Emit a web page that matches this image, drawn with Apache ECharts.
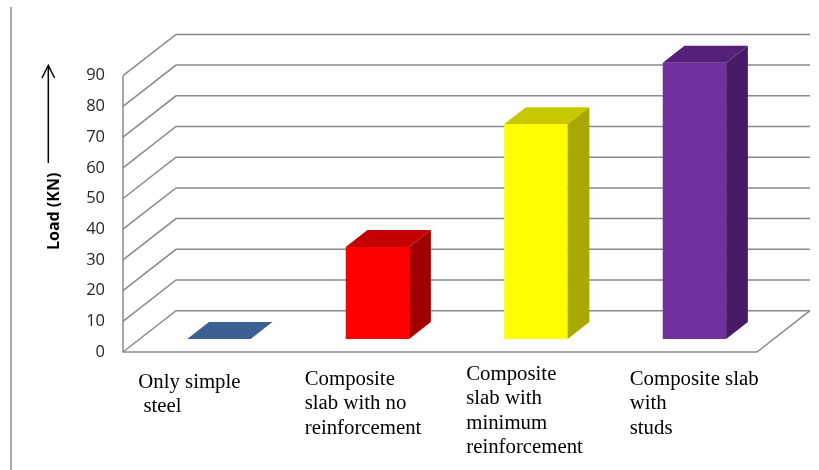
<!DOCTYPE html>
<html>
<head>
<meta charset="utf-8">
<script src="https://cdn.jsdelivr.net/npm/echarts@6/dist/echarts.min.js"></script>
<style>
  html, body { margin: 0; padding: 0; background: #ffffff; }
  #chart { width: 819px; height: 470px; }
</style>
</head>
<body>
<div id="chart"></div>
<script>
// Slab types on the category axis
const categories = [
  'Only simple\n steel',
  'Composite\nslab with no\nreinforcement',
  'Composite\nslab with\nminimum\nreinforcement',
  'Composite slab\nwith\nstuds'
];
// Failure load of each slab, kN
const loadValues = [0, 30, 70, 90];
// Value-axis ticks (also used for the wall grid lines)
const loadTicks = [0, 10, 20, 30, 40, 50, 60, 70, 80, 90];

// Face colours of each 3D column
const frontColors = ['#4f81bd', '#ff0000', '#ffff00', '#7030a0'];
const topColors   = ['#3c6091', '#c40000', '#c8c800', '#55207a'];
const sideColors  = ['#2f4d74', '#a00000', '#a8a800', '#481b66'];

// Oblique projection of the depth direction (pixels for full depth)
const DEPTH_X = 53;
const DEPTH_Y = -41.3;
// Column sits between these fractions of the floor depth
const BAR_FRONT = 0.315;
const BAR_DEPTH = 0.41;
const BAR_WIDTH_RATIO = 0.4;
const GRID_COLOR = '#8a8a8a';

// Per-label placement relative to the category centre on the floor line
const labelOffsets = [[-64, 18], [-56, 15], [-53, 10], [-48, 15]];

const chart = echarts.init(document.getElementById('chart'), null, { renderer: 'canvas' });

function renderWall(params, api) {
  const cs = params.coordSys;
  const v = api.value(1);
  const y = api.coord([0, v])[1];
  const x0 = cs.x;
  const x1 = cs.x + cs.width;
  const lineStyle = { stroke: GRID_COLOR, lineWidth: 1.5, fill: null };
  const children = [{
    type: 'polyline',
    shape: { points: [[x0, y], [x0 + DEPTH_X, y + DEPTH_Y], [x1 + DEPTH_X, y + DEPTH_Y]] },
    style: lineStyle
  }];
  if (v === 0) {
    const yTop = api.coord([0, loadTicks[loadTicks.length - 1]])[1];
    children.push({
      type: 'polyline',
      shape: { points: [[x0, yTop], [x0, y], [x1, y], [x1 + DEPTH_X, y + DEPTH_Y]] },
      style: lineStyle
    });
  }
  return { type: 'group', children: children };
}

function renderBar(params, api) {
  const i = api.value(0);
  const v = api.value(1);
  const band = api.size([1, 0])[0];
  const bw = band * BAR_WIDTH_RATIO;
  const top = api.coord([i, v]);
  const base = api.coord([i, 0]);
  const fx = top[0] - bw / 2 + DEPTH_X * BAR_FRONT;
  const fyTop = top[1] + DEPTH_Y * BAR_FRONT;
  const fyBot = base[1] + DEPTH_Y * BAR_FRONT;
  const dx = DEPTH_X * BAR_DEPTH;
  const dy = DEPTH_Y * BAR_DEPTH;
  const children = [];
  if (fyBot - fyTop > 0.5) {
    children.push({
      type: 'rect',
      shape: { x: fx, y: fyTop, width: bw, height: fyBot - fyTop },
      style: { fill: frontColors[i] }
    });
    children.push({
      type: 'polygon',
      shape: { points: [[fx + bw, fyTop], [fx + bw + dx, fyTop + dy], [fx + bw + dx, fyBot + dy], [fx + bw, fyBot]] },
      style: { fill: sideColors[i] }
    });
  }
  children.push({
    type: 'polygon',
    shape: { points: [[fx, fyTop], [fx + bw, fyTop], [fx + bw + dx, fyTop + dy], [fx + dx, fyTop + dy]] },
    style: { fill: topColors[i] }
  });
  return { type: 'group', children: children };
}

function renderLabel(params, api) {
  const i = api.value(0);
  const p = api.coord([i, 0]);
  return {
    type: 'text',
    x: p[0] + labelOffsets[i][0],
    y: p[1] + labelOffsets[i][1],
    style: {
      text: categories[i],
      fontFamily: 'Liberation Serif',
      fontSize: 20.8,
      lineHeight: 24.5,
      fill: '#000000',
      align: 'left',
      verticalAlign: 'top'
    }
  };
}

const option = {
  animation: false,
  backgroundColor: '#ffffff',
  grid: { left: 123, right: 62, top: 75.7, bottom: 118 },
  xAxis: {
    type: 'category',
    data: categories,
    axisLine: { show: false },
    axisTick: { show: false },
    axisLabel: { show: false },
    splitLine: { show: false }
  },
  yAxis: {
    type: 'value',
    min: 0,
    max: 90,
    interval: 10,
    axisLine: { show: false },
    axisTick: { show: false },
    splitLine: { show: false },
    axisLabel: { color: '#262626', fontFamily: 'Open Sans', fontSize: 16.5, margin: 18, padding: [3, 0, 0, 0] },
    name: 'Load (KN)',
    nameLocation: 'middle',
    nameRotate: 90,
    nameGap: 61,
    nameTextStyle: { fontFamily: 'Open Sans', fontWeight: 'bold', fontSize: 16, color: '#000000', padding: [0, 0, 0, 5] }
  },
  graphic: [
    {
      type: 'line',
      shape: { x1: 11, y1: 7, x2: 11, y2: 470 },
      style: { stroke: '#8c8c8c', lineWidth: 1.5 }
    },
    {
      type: 'line',
      shape: { x1: 48.3, y1: 163, x2: 48.3, y2: 66 },
      style: { stroke: '#000000', lineWidth: 1.5 }
    },
    {
      type: 'polyline',
      shape: { points: [[42, 78], [48.3, 65.5], [54.6, 78]] },
      style: { stroke: '#000000', lineWidth: 1.5, fill: null }
    }
  ],
  series: [
    {
      type: 'custom',
      name: 'walls',
      silent: true,
      z: 1,
      data: loadTicks.map(function (t) { return [0, t]; }),
      renderItem: renderWall
    },
    {
      type: 'custom',
      name: 'Load',
      z: 2,
      data: loadValues.map(function (v, i) { return [i, v]; }),
      renderItem: renderBar
    },
    {
      type: 'custom',
      name: 'labels',
      silent: true,
      z: 3,
      data: categories.map(function (c, i) { return [i, 0]; }),
      renderItem: renderLabel
    }
  ]
};

chart.setOption(option);
</script>
</body>
</html>
